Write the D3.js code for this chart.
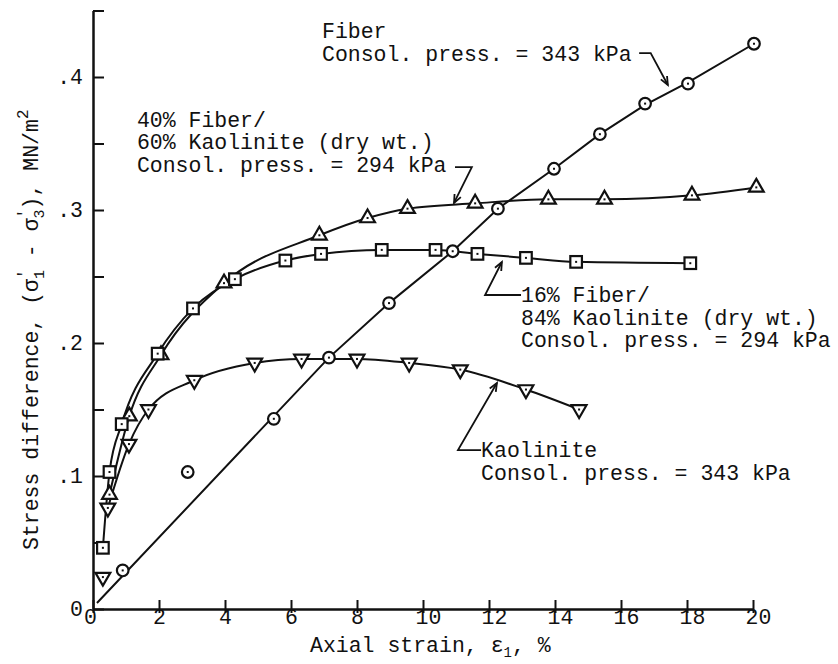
<!DOCTYPE html>
<html>
<head>
<meta charset="utf-8">
<script src="https://cdn.jsdelivr.net/npm/d3@7"></script>
<style>
  body { margin: 0; background: #fff; }
  text { font-family: "Courier New", "Liberation Mono", monospace; fill: #111; }
</style>
</head>
<body>
<script>
const width = 838;
const height = 664;
const fontSize = 21.5;
const lineGap = 22.5;

// Fiber, consol. press. = 343 kPa (circles)
const fiberStrain = [0.9, 2.87, 5.48, 7.15, 8.97, 10.9, 12.27, 13.97, 15.36, 16.73, 18.03, 20.03];
const fiberStress = [0.029, 0.103, 0.143, 0.189, 0.230, 0.269, 0.301, 0.331, 0.357, 0.380, 0.395, 0.425];
// the drawn (fitted) line for fiber, nearly straight from the origin
const fiberFitStrain = [0.12, 7.15, 8.97, 10.9, 12.27, 13.97, 15.36, 16.73, 18.03, 20.03];
const fiberFitStress = [0.0045, 0.189, 0.230, 0.269, 0.301, 0.331, 0.357, 0.379, 0.396, 0.425];

// 40% fiber / 60% kaolinite, 294 kPa (up triangles)
const mix40Strain = [0.5, 1.1, 2.06, 3.97, 6.86, 8.32, 9.53, 11.58, 13.8, 15.5, 18.15, 20.1];
const mix40Stress = [0.086, 0.145, 0.191, 0.245, 0.281, 0.294, 0.301, 0.305, 0.308, 0.308, 0.311, 0.317];

// 16% fiber / 84% kaolinite, 294 kPa (squares)
const mix16Strain = [0.3, 0.5, 0.87, 1.96, 3.03, 4.3, 5.83, 6.91, 8.75, 10.38, 11.65, 13.12, 14.64, 18.1];
const mix16Stress = [0.046, 0.103, 0.139, 0.192, 0.226, 0.248, 0.262, 0.267, 0.270, 0.270, 0.267, 0.264, 0.261, 0.260];

// Kaolinite, 343 kPa (down triangles)
const kaoStrain = [0.3, 0.45, 1.09, 1.68, 3.07, 4.9, 6.32, 8.0, 9.58, 11.13, 13.12, 14.73];
const kaoStress = [0.024, 0.076, 0.124, 0.150, 0.172, 0.185, 0.188, 0.188, 0.185, 0.180, 0.165, 0.150];

const xTicks = [0, 2, 4, 6, 8, 10, 12, 14, 16, 18, 20];
const yTicks = [0, 0.05, 0.1, 0.15, 0.2, 0.25, 0.3, 0.35, 0.4, 0.45];
const yTickLabels = ["0", "", ".1", "", ".2", "", ".3", "", ".4", ""];

const zip = (xs, ys) => xs.map((v, i) => [v, ys[i]]);

const x = d3.scaleLinear().domain([0, 20]).range([93, 753]);
const y = d3.scaleLinear().domain([0, 0.45]).range([609, 10.5]);

const svg = d3.select("body").append("svg")
  .attr("width", width)
  .attr("height", height);

// axes
const gy = svg.append("g")
  .attr("transform", `translate(${x(0)},0)`)
  .call(d3.axisLeft(y).tickValues(yTicks).tickFormat((d, i) => yTickLabels[i])
    .tickSizeInner(-11).tickSizeOuter(0).tickPadding(10));
gy.attr("font-size", fontSize).attr("font-family", null);
gy.select(".domain").attr("stroke", "#111").attr("stroke-width", 2.5);
gy.selectAll(".tick line").attr("stroke", "#111").attr("stroke-width", 2);

const gx = svg.append("g")
  .attr("transform", `translate(0,${y(0)})`)
  .call(d3.axisBottom(x).tickValues(xTicks).tickSizeOuter(0).tickPadding(0));
gx.attr("font-size", fontSize).attr("font-family", null);
gx.select(".domain").attr("stroke", "#111").attr("stroke-width", 2.5);
gx.selectAll(".tick line").attr("stroke", "#111").attr("stroke-width", 2)
  .attr("y1", -9).attr("y2", 4);
gx.selectAll(".tick text")
  .attr("y", 0).attr("dy", "0.7em")
  .attr("dx", d => String(d).length > 1 ? 5 : (d === 0 ? -3 : 0));

// axis titles
const yTitle = svg.append("text")
  .attr("transform", `translate(38,550) rotate(-90)`)
  .attr("font-size", fontSize);
yTitle.append("tspan").text("Stress difference, (\u03c3");
yTitle.append("tspan").attr("dy", -9).attr("font-size", 16).text("'");
yTitle.append("tspan").attr("dx", -9.6).attr("dy", 15).attr("font-size", 15).text("1");
yTitle.append("tspan").attr("dy", -6).text(" - \u03c3");
yTitle.append("tspan").attr("dy", -9).attr("font-size", 16).text("'");
yTitle.append("tspan").attr("dx", -9.6).attr("dy", 15).attr("font-size", 15).text("3");
yTitle.append("tspan").attr("dy", -6).text("), MN/m");
yTitle.append("tspan").attr("dy", -10).attr("font-size", 16).text("2");

const xTitle = svg.append("text")
  .attr("x", 310).attr("y", 652)
  .attr("font-size", fontSize);
xTitle.append("tspan").text("Axial strain, \u03b5");
xTitle.append("tspan").attr("dy", 5).attr("font-size", 14).text("1");
xTitle.append("tspan").attr("dy", -5).text(", %");

// curves
const smooth = d3.line()
  .curve(d3.curveMonotoneX)
  .x(d => x(d[0]))
  .y(d => y(d[1]));
const straight = d3.line()
  .x(d => x(d[0]))
  .y(d => y(d[1]));

const curves = [
  { pts: zip(fiberFitStrain, fiberFitStress), gen: straight },
  { pts: zip(mix40Strain, mix40Stress), gen: smooth },
  { pts: zip(mix16Strain, mix16Stress), gen: smooth },
  { pts: zip(kaoStrain, kaoStress).slice(1), gen: smooth }
];

svg.append("g")
  .selectAll("path")
  .data(curves)
  .enter()
  .append("path")
  .attr("d", d => d.gen(d.pts))
  .attr("fill", "none")
  .attr("stroke", "#111")
  .attr("stroke-width", 2);

// markers
function markers(pts, shape) {
  const g = svg.append("g")
    .selectAll("g")
    .data(pts)
    .enter()
    .append("g")
    .attr("transform", d => `translate(${x(d[0])},${y(d[1])})`);
  if (shape === "circle") {
    g.append("circle").attr("r", 5.8);
  } else if (shape === "square") {
    g.append("rect").attr("x", -5.8).attr("y", -5.8).attr("width", 11.6).attr("height", 11.6);
  } else {
    g.append("path")
      .attr("d", d3.symbol(d3.symbolTriangle, 95))
      .attr("transform", shape === "down" ? "rotate(180)" : null);
  }
  g.select(":first-child")
    .attr("fill", "#fff")
    .attr("stroke", "#111")
    .attr("stroke-width", 2.2);
  g.append("rect")
    .attr("x", -1).attr("y", -1).attr("width", 2).attr("height", 2)
    .attr("fill", "#111");
}

markers(zip(fiberStrain, fiberStress), "circle");
markers(zip(mix40Strain, mix40Stress), "up");
markers(zip(mix16Strain, mix16Stress), "square");
markers(zip(kaoStrain, kaoStress), "down");

// curve labels
const labels = [
  { lines: ["Fiber", "Consol. press. = 343 kPa"], at: [6.94, 0.429] },
  { lines: ["40% Fiber/", "60% Kaolinite (dry wt.)", "Consol. press. = 294 kPa"], at: [1.33, 0.3625] },
  { lines: ["16% Fiber/", "84% Kaolinite (dry wt.)", "Consol. press. = 294 kPa"], at: [12.97, 0.2305] },
  { lines: ["Kaolinite", "Consol. press. = 343 kPa"], at: [11.76, 0.114] }
];

labels.forEach(l => {
  const t = svg.append("text")
    .attr("x", x(l.at[0]))
    .attr("y", y(l.at[1]))
    .attr("font-size", fontSize);
  t.selectAll("tspan")
    .data(l.lines)
    .enter()
    .append("tspan")
    .attr("x", x(l.at[0]))
    .attr("dy", (d, i) => i === 0 ? 0 : lineGap)
    .text(d => d);
});

// leader arrows
const leaders = [
  [[16.55, 0.418], [16.9, 0.418], [17.42, 0.394]],
  [[10.97, 0.3323], [11.48, 0.3323], [10.94, 0.3053]],
  [[12.97, 0.2361], [11.88, 0.2361], [12.39, 0.2609]],
  [[11.76, 0.1195], [11.06, 0.1195], [12.24, 0.1699]]
];

const lead = d3.line().x(d => x(d[0])).y(d => y(d[1]));
leaders.forEach(pts => {
  svg.append("path")
    .attr("d", lead(pts))
    .attr("fill", "none")
    .attr("stroke", "#111")
    .attr("stroke-width", 1.8);
  const a = pts[pts.length - 2], b = pts[pts.length - 1];
  const tx = x(b[0]), ty = y(b[1]);
  const ang = Math.atan2(ty - y(a[1]), tx - x(a[0]));
  const head = [ang + Math.PI - 0.4, ang + Math.PI + 0.4]
    .map(t => [tx + 9 * Math.cos(t), ty + 9 * Math.sin(t)]);
  svg.append("path")
    .attr("d", `M${head[0]}L${tx},${ty}L${head[1]}`)
    .attr("fill", "none")
    .attr("stroke", "#111")
    .attr("stroke-width", 1.8);
});
</script>
</body>
</html>
